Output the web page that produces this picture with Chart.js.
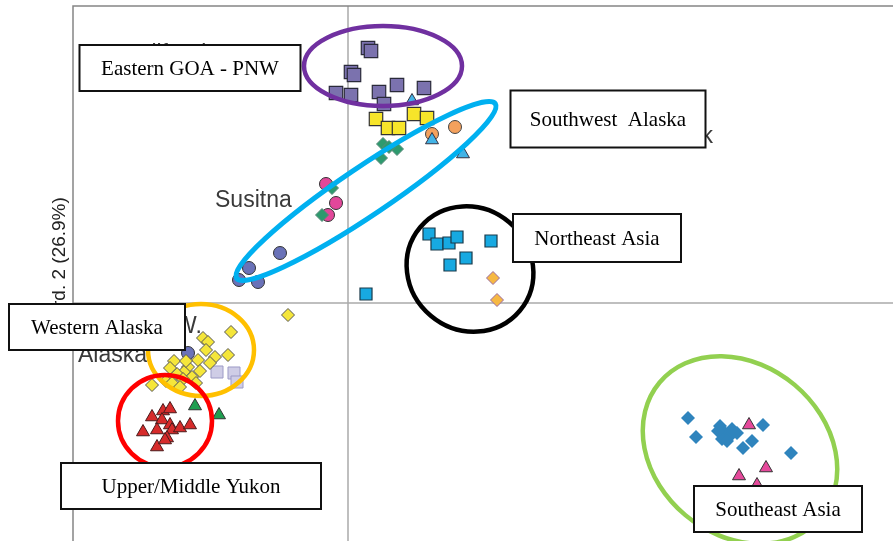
<!DOCTYPE html>
<html>
<head>
<meta charset="utf-8">
<script src="https://cdn.jsdelivr.net/npm/chart.js@4.4.0/dist/chart.umd.min.js"></script>
<style>
  html, body { margin: 0; padding: 0; background: #fff; }
  canvas { display: block; }
</style>
</head>
<body>
<canvas id="pca-chart" width="893" height="541"></canvas>
<script>
// PCA coordinates (axis 1 / axis 2)
const goaPnwX = [0.20, 0.23, 0.03, 0.06, -0.12, 0.03, 0.31, 0.49, 0.76, 0.36];
const goaPnwY = [2.55, 2.52, 2.31, 2.28, 2.10, 2.08, 2.11, 2.18, 2.15, 1.99];

const yellowSqX = [0.28, 0.40, 0.51, 0.66, 0.79];
const yellowSqY = [1.84, 1.75, 1.75, 1.89, 1.85];

const blueTriX = [0.64, 0.84, 1.15];
const blueTriY = [2.02, 1.63, 1.49];

const orangeCircX = [0.84, 1.07];
const orangeCircY = [1.69, 1.76];

const greenDiaX = [0.35, 0.49, 0.33, 0.41, -0.16, -0.26];
const greenDiaY = [1.59, 1.54, 1.45, 1.56, 1.15, 0.88];

const susitnaX = [-0.22, -0.12, -0.20];
const susitnaY = [1.19, 1.00, 0.88];

const slateCircX = [-0.68, -0.99, -1.09, -0.90, -1.60];
const slateCircY = [0.50, 0.35, 0.23, 0.21, -0.50];

const neAsiaX = [0.81, 0.89, 1.01, 1.09, 1.18, 1.02, 1.43, 0.18];
const neAsiaY = [0.69, 0.59, 0.60, 0.66, 0.45, 0.38, 0.62, 0.09];

const orangeDiaX = [1.45, 1.49];
const orangeDiaY = [0.25, 0.03];

const westAkX = [-0.60, -1.17, -1.45, -1.40, -1.42, -1.33, -1.20, -1.50, -1.38, -1.74, -1.60, -1.64,
                 -1.71, -1.78, -1.56, -1.65, -1.82, -1.96, -1.52, -1.76, -1.68, -1.62, -1.48];
const westAkY = [-0.12, -0.29, -0.35, -0.39, -0.47, -0.54, -0.52, -0.57, -0.60, -0.58, -0.64, -0.69,
                 -0.71, -0.65, -0.74, -0.76, -0.78, -0.82, -0.80, -0.80, -0.84, -0.58, -0.68];

const lavenderX = [-1.31, -1.14, -1.11];
const lavenderY = [-0.69, -0.70, -0.79];

const greenTriX = [-1.53, -1.29];
const greenTriY = [-1.03, -1.12];

const yukonX = [-1.96, -1.85, -1.78, -1.86, -2.05, -1.91, -1.78, -1.76, -1.68, -1.58, -1.81, -1.91, -1.83];
const yukonY = [-1.14, -1.08, -1.06, -1.17, -1.29, -1.27, -1.22, -1.27, -1.25, -1.22, -1.35, -1.44, -1.37];

const seAsiaX = [3.40, 3.48, 3.72, 3.77, 3.82, 3.89, 3.74, 3.79, 4.04, 3.95, 4.15, 4.43, 3.70, 3.84];
const seAsiaY = [-1.15, -1.34, -1.23, -1.30, -1.33, -1.30, -1.36, -1.38, -1.38, -1.45, -1.22, -1.50, -1.28, -1.26];

const pinkTriX = [4.01, 4.18, 3.91, 4.09];
const pinkTriY = [-1.22, -1.65, -1.73, -1.82];

const axisTitle = 'Coord. 2 (26.9%)';

// group outlines: centre (data units), radii (axis-1 units), tilt in degrees
const groups = [
  { cx: 0.35, cy: 2.37, rx: 0.79, ry: 0.40, tilt: 0, color: '#7030a0' },
  { cx: 0.18, cy: 1.12, rx: 1.56, ry: 0.24, tilt: -34, color: '#00b0f0' },
  { cx: 1.22, cy: 0.34, rx: 0.65, ry: 0.61, tilt: 40, color: '#000000' },
  { cx: -1.47, cy: -0.47, rx: 0.53, ry: 0.46, tilt: 0, color: '#ffc000' },
  { cx: -1.83, cy: -1.18, rx: 0.47, ry: 0.46, tilt: 0, color: '#ff0000' },
  { cx: 3.92, cy: -1.47, rx: 1.05, ry: 0.85, tilt: 40, color: '#92d050' }
];

// region captions in boxes
const regions = [
  { text: 'Eastern GOA - PNW', cx: -1.58, cy: 2.35, w: 221, h: 46 },
  { text: 'Southwest  Alaska', cx: 2.60, cy: 1.84, w: 195, h: 57 },
  { text: 'Northeast Asia', cx: 2.49, cy: 0.65, w: 168, h: 48 },
  { text: 'Western Alaska', cx: -2.51, cy: -0.24, w: 176, h: 46 },
  { text: 'Upper/Middle Yukon', cx: -1.57, cy: -1.83, w: 260, h: 46 },
  { text: 'Southeast Asia', cx: 4.30, cy: -2.06, w: 168, h: 46 }
];

// original map labels partly hidden under the boxes
const placeLabels = [
  { text: 'California', x: -2.26, y: 2.42, align: 'left' },
  { text: 'Susitna', x: -1.33, y: 0.96, align: 'left' },
  { text: 'Nushagak', x: 3.65, y: 1.60, align: 'right' },
  { text: 'W.', x: -1.73, y: -0.30, align: 'left' },
  { text: 'Alaska', x: -2.70, y: -0.59, align: 'left' }
];

function points(xs, ys) {
  return xs.map((v, i) => ({ x: v, y: ys[i] }));
}

function group(label, xs, ys, style, radius, fill, border, bw) {
  return {
    label: label,
    data: points(xs, ys),
    pointStyle: style,
    pointRadius: radius,
    pointBackgroundColor: fill,
    pointBorderColor: border,
    pointBorderWidth: bw
  };
}

const overlay = {
  id: 'overlay',
  beforeDatasetsDraw(chart) {
    const { ctx, chartArea: a, scales: { x, y } } = chart;
    ctx.save();
    // zero lines
    ctx.strokeStyle = '#ababab';
    ctx.lineWidth = 1.5;
    ctx.beginPath();
    ctx.moveTo(x.getPixelForValue(0), a.top);
    ctx.lineTo(x.getPixelForValue(0), a.bottom);
    ctx.moveTo(a.left, y.getPixelForValue(0));
    ctx.lineTo(a.right, y.getPixelForValue(0));
    ctx.stroke();
    // frame (left and top)
    ctx.strokeStyle = '#858585';
    ctx.beginPath();
    ctx.moveTo(a.left, a.bottom);
    ctx.lineTo(a.left, a.top);
    ctx.lineTo(a.right, a.top);
    ctx.stroke();
    // faded place names
    ctx.fillStyle = '#3a3a3a';
    ctx.font = '23px "Liberation Sans", Arial, sans-serif';
    ctx.textBaseline = 'alphabetic';
    placeLabels.forEach(p => {
      ctx.textAlign = p.align;
      ctx.fillText(p.text, x.getPixelForValue(p.x), y.getPixelForValue(p.y));
    });
    // axis title
    ctx.save();
    ctx.translate(65, (a.top + a.bottom) / 2 - 4);
    ctx.rotate(-Math.PI / 2);
    ctx.textAlign = 'center';
    ctx.fillStyle = '#222';
    ctx.font = '19px "Liberation Sans", Arial, sans-serif';
    ctx.fillText(axisTitle, 0, 0);
    ctx.restore();
    ctx.restore();
  },
  afterDatasetsDraw(chart) {
    const { ctx, scales: { x, y } } = chart;
    const unit = x.getPixelForValue(1) - x.getPixelForValue(0);
    ctx.save();
    groups.forEach(g => {
      ctx.strokeStyle = g.color;
      ctx.lineWidth = g.color === '#00b0f0' ? 5 : 4.5;
      ctx.beginPath();
      ctx.ellipse(x.getPixelForValue(g.cx), y.getPixelForValue(g.cy),
        g.rx * unit, g.ry * unit, g.tilt * Math.PI / 180, 0, Math.PI * 2);
      ctx.stroke();
    });
    ctx.font = '21px "Liberation Serif", "Times New Roman", serif';
    ctx.textAlign = 'center';
    ctx.textBaseline = 'alphabetic';
    regions.forEach(r => {
      const px = x.getPixelForValue(r.cx), py = y.getPixelForValue(r.cy);
      ctx.fillStyle = '#fff';
      ctx.fillRect(px - r.w / 2, py - r.h / 2, r.w, r.h);
      ctx.strokeStyle = '#111';
      ctx.lineWidth = 2;
      ctx.strokeRect(px - r.w / 2, py - r.h / 2, r.w, r.h);
      ctx.fillStyle = '#000';
      ctx.fillText(r.text, px, py + 7);
    });
    ctx.restore();
  }
};

new Chart(document.getElementById('pca-chart'), {
  type: 'scatter',
  data: {
    datasets: [
      group('Western Alaska', westAkX, westAkY, 'rectRot', 6.5, '#f5e63a', '#555', 1),
      group('Lavender', lavenderX, lavenderY, 'rect', 8.5, '#cfcde6', '#9c9ac6', 1),
      group('Slate circles', slateCircX, slateCircY, 'circle', 6.5, '#6a72b8', '#333', 1),
      group('Green triangles', greenTriX, greenTriY, 'triangle', 7.5, '#1f9e50', '#333', 1),
      group('Upper/Middle Yukon', yukonX, yukonY, 'triangle', 7.5, '#d62b2b', '#4a1a1a', 1),
      group('Blue triangles', blueTriX, blueTriY, 'triangle', 7.5, '#42b3e6', '#334', 1),
      group('Orange circles', orangeCircX, orangeCircY, 'circle', 6.5, '#f4a15d', '#444', 1),
      group('Yellow squares', yellowSqX, yellowSqY, 'rect', 9.5, '#f7e52a', '#333', 1.2),
      group('Eastern GOA - PNW', goaPnwX, goaPnwY, 'rect', 9.5, '#7b72ae', '#2a2a3a', 1.2),
      group('Green diamonds', greenDiaX, greenDiaY, 'rectRot', 6.5, '#2e9a6e', '#5a8a7a', 1),
      group('Susitna', susitnaX, susitnaY, 'circle', 6.5, '#e2479a', '#333', 1),
      group('Northeast Asia', neAsiaX, neAsiaY, 'rect', 8.5, '#17a9e1', '#1a3a4a', 1.2),
      group('Orange diamonds', orangeDiaX, orangeDiaY, 'rectRot', 6.5, '#f6b843', '#9a6aa0', 1),
      group('Southeast Asia', seAsiaX, seAsiaY, 'rectRot', 7, '#2f84bd', '#2f84bd', 0),
      group('Pink triangles', pinkTriX, pinkTriY, 'triangle', 7.5, '#e5499b', '#333', 1)
    ]
  },
  options: {
    responsive: false,
    animation: false,
    devicePixelRatio: 1,
    layout: { autoPadding: false, padding: { left: 73, top: 6, right: 0, bottom: 0 } },
    scales: {
      x: { type: 'linear', min: -2.75, max: 5.45, display: false },
      y: { type: 'linear', min: -2.38, max: 2.97, display: false }
    },
    plugins: {
      legend: { display: false },
      tooltip: { enabled: false }
    }
  },
  plugins: [overlay]
});
</script>
</body>
</html>
